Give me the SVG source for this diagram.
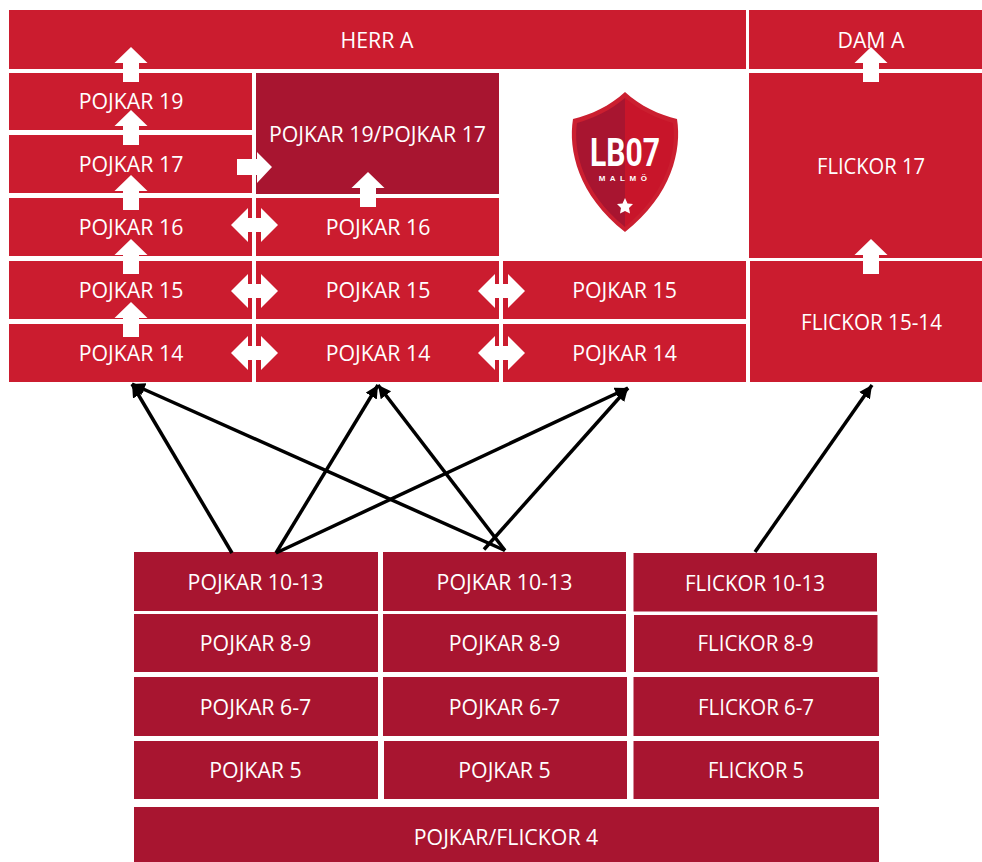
<svg xmlns="http://www.w3.org/2000/svg" width="982" height="862" viewBox="0 0 982 862">
<style>
.a{fill:#cb1c2f}.d{fill:#a81530}.w{fill:#fff}
text{font-family:"Open Sans","Liberation Sans",sans-serif;font-size:21.300px;fill:#fff;text-anchor:middle}
.c{stroke:#000;stroke-width:3.500;fill:none;marker-end:url(#h)}
</style>
<defs>
<marker id="h" markerUnits="userSpaceOnUse" markerWidth="15" markerHeight="14" refX="13" refY="6.500" orient="auto"><path d="M0 0L13 6.500L0 13z" fill="#000"/></marker>
<path id="u" d="M0 0L16.500 16H8V35H-8V16H-16.500z" fill="#fff"/>
<path id="b" d="M-23 0L-6 -17V-7H7V-17L24 0L7 17V7H-6V17z" fill="#fff"/>
</defs>
<rect width="982" height="862" fill="#fff"/>
<g id="herr-a"><rect class="a" x="9" y="10" width="737" height="59"/><text x="377" y="48">HERR A</text></g>
<g id="dam-a"><rect class="a" x="749" y="10" width="233" height="59"/><text x="871" y="48">DAM A</text></g>
<g id="p19"><rect class="a" x="9" y="73" width="243" height="57"/><text x="131" y="108.500">POJKAR 19</text></g>
<g id="p17"><rect class="a" x="9" y="135" width="243" height="58"/><text x="131" y="172">POJKAR 17</text></g>
<g id="p16"><rect class="a" x="9" y="198" width="243" height="58"/><text x="131" y="235">POJKAR 16</text></g>
<g id="p15"><rect class="a" x="9" y="261" width="243" height="58"/><text x="131" y="298">POJKAR 15</text></g>
<g id="p14"><rect class="a" x="9" y="324" width="243" height="58"/><text x="131" y="361">POJKAR 14</text></g>
<g id="p19-17"><rect class="d" x="256" y="73" width="243" height="121"/><text x="377.500" y="142">POJKAR 19/POJKAR 17</text></g>
<g id="p16b"><rect class="a" x="256" y="198" width="243" height="58"/><text x="378" y="235">POJKAR 16</text></g>
<g id="p15b"><rect class="a" x="256" y="261" width="243" height="58"/><text x="378" y="298">POJKAR 15</text></g>
<g id="p14b"><rect class="a" x="256" y="324" width="243" height="58"/><text x="378" y="361">POJKAR 14</text></g>
<g id="p15c"><rect class="a" x="503" y="261" width="243" height="58"/><text x="624.500" y="298">POJKAR 15</text></g>
<g id="p14c"><rect class="a" x="503" y="324" width="243" height="58"/><text x="624.500" y="361">POJKAR 14</text></g>
<g id="f17"><rect class="a" x="749" y="73" width="233" height="185"/><text x="871" y="174" textLength="108" lengthAdjust="spacingAndGlyphs">FLICKOR 17</text></g>
<g id="f15"><rect class="a" x="750" y="261" width="232" height="121"/><text x="871.500" y="329.500" textLength="141" lengthAdjust="spacingAndGlyphs">FLICKOR 15-14</text></g>
<g id="logo">
<path d="M625 92C610 106 590 115 573 119C568 150 578 195 625 232C672 195 682 150 677 119C660 115 640 106 625 92z" fill="#cb1f30"/>
<path d="M625 98C611 110 592 119 577 123C573 150 582 192 625 227z" fill="#a81530"/>
<path d="M625 98C639 110 658 119 673 123C677 150 668 192 625 227z" fill="#c8152a"/>
<text x="625" y="165.500" style="font-family:'Liberation Sans Narrow','Roboto','Liberation Sans',sans-serif;font-size:39px;font-weight:700" textLength="70" lengthAdjust="spacingAndGlyphs">LB07</text>
<text x="625" y="181" style="font-family:'Liberation Sans',sans-serif;font-size:8px;font-weight:700;letter-spacing:4.500px">MALMÖ</text>
<path d="M625 198L627.500 203.500L633 204L629 208L630 213.500L625 211L620 213.500L621 208L617 204L622.500 203.500z" fill="#fff"/>
</g>
<g id="b1"><rect class="d" x="134" y="552" width="244" height="59"/><text x="255.500" y="590">POJKAR 10-13</text></g>
<g id="b2"><rect class="d" x="134" y="614" width="244" height="58"/><text x="255.500" y="651">POJKAR 8-9</text></g>
<g id="b3"><rect class="d" x="134" y="677" width="244" height="59"/><text x="255.500" y="714.500">POJKAR 6-7</text></g>
<g id="b4"><rect class="d" x="134" y="741" width="244" height="58"/><text x="255.500" y="778">POJKAR 5</text></g>
<g id="c1"><rect class="d" x="383" y="552" width="243" height="59"/><text x="504.500" y="590">POJKAR 10-13</text></g>
<g id="c2"><rect class="d" x="383" y="614" width="243" height="58"/><text x="504.500" y="651">POJKAR 8-9</text></g>
<g id="c3"><rect class="d" x="383" y="677" width="244" height="59"/><text x="504.500" y="714.500">POJKAR 6-7</text></g>
<g id="c4"><rect class="d" x="384" y="741" width="243" height="58"/><text x="504.500" y="778">POJKAR 5</text></g>
<g id="e1"><rect class="d" x="633.500" y="553" width="243.500" height="58.500"/><text x="755" y="591" textLength="140" lengthAdjust="spacingAndGlyphs">FLICKOR 10-13</text></g>
<g id="e2"><rect class="d" x="634" y="615" width="243.500" height="57"/><text x="755.500" y="651" textLength="116" lengthAdjust="spacingAndGlyphs">FLICKOR 8-9</text></g>
<g id="e3"><rect class="d" x="633.500" y="677" width="245.500" height="59"/><text x="756" y="714.500" textLength="116" lengthAdjust="spacingAndGlyphs">FLICKOR 6-7</text></g>
<g id="e4"><rect class="d" x="633.500" y="741" width="245.500" height="58"/><text x="756" y="778" textLength="96" lengthAdjust="spacingAndGlyphs">FLICKOR 5</text></g>
<g id="p4"><rect class="d" x="134" y="807" width="745" height="55"/><text x="506" y="845">POJKAR/FLICKOR 4</text></g>
<g id="block-arrows">
<use href="#u" x="131" y="47"/><use href="#u" x="131" y="110"/><use href="#u" x="131" y="175"/><use href="#u" x="131" y="239"/><use href="#u" x="131" y="302"/>
<use href="#u" x="368" y="172"/><use href="#u" x="871" y="47"/><use href="#u" x="871" y="239"/>
<path d="M237 159H257V152L272 167L257 183V175H237z" fill="#fff"/>
<use href="#b" x="254" y="225"/><use href="#b" x="254" y="291"/><use href="#b" x="254" y="353"/>
<use href="#b" x="501" y="291"/><use href="#b" x="501" y="353"/>
</g>
<g id="connectors">
<path class="c" d="M232 553L132 384"/>
<path class="c" d="M276 553L378 385"/>
<path class="c" d="M276 553L628 388"/>
<path class="c" d="M505 550.500L132 384"/>
<path class="c" d="M505 550.500L378 385"/>
<path class="c" d="M484 549.500L628 388"/>
<path class="c" d="M755 552L872 385"/>
</g>
</svg>
